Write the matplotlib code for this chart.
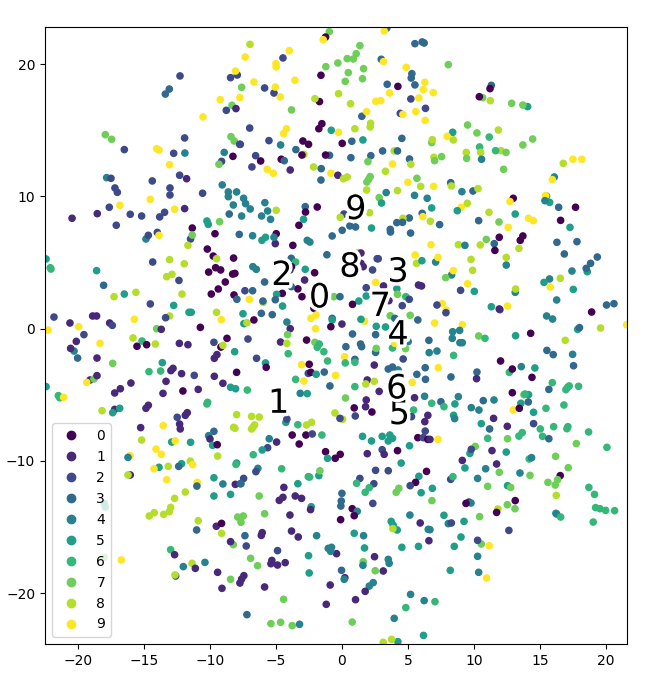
import matplotlib
matplotlib.use("Agg")
import matplotlib.pyplot as plt
import matplotlib.patheffects as pe
import numpy as np

# (x, y, digit class), grouped by part of the plane
upper_left = [
(-12.27,19.1,2),(-13.08,18.11,3),(-13.38,17.73,3),(-8.44,18.97,2),(-7.93,19.17,2),(-8.06,19.47,9),(-9.22,17.31,9),(-7.73,17.46,9),
(-8.33,16.88,7),(-8.03,16.63,1),(-8.76,16.5,2),(-10.53,16.0,9),(-17.93,14.66,7),(-17.45,14.31,7),(-11.92,14.41,2),(-8.41,14.51,7),
(-8.16,14.18,7),(-7.75,13.93,2),(-16.49,13.53,2),(-14.04,13.6,9),(-13.86,13.5,9),(-12.75,13.25,2),(-11.9,13.27,4),(-8.92,13.32,4),
(-8.26,13.02,0),(-9.12,12.64,2),(-9.32,12.42,7),(-13.06,12.39,9),(-12.3,11.59,2),(-11.77,11.33,1),(-17.83,11.41,4),(-17.5,11.36,2),
(-14.37,11.16,2),(-17.2,10.63,2),(-17.02,10.3,2),(-13.03,10.63,2),(-13.03,10.1,2),(-10.56,10.23,2),(-9.07,10.86,4),(-8.61,10.33,4),
(-8.61,9.97,4),(-7.98,10.33,4),(-14.52,9.77,9),(-16.82,9.32,9),(-17.63,9.17,2),(-12.68,9.02,9),(-11.92,9.07,1),(-8.23,9.34,4),
(-18.54,8.69,1),(-20.45,8.34,1),(-16.04,8.64,2),(-15.18,8.51,2),(-13.44,8.79,2),(-13.81,8.44,2),(-8.54,8.66,3),(-10.23,8.13,5),
(-10.13,7.88,5),(-9.27,8.08,7),(-17.1,7.81,2),(-11.34,7.6,0),
]
upper_middle = [
(-0.96,22.45,7),(-1.24,22.04,0),(-1.42,21.84,9),(3.4,22.72,3),(3.2,22.5,9),(-6.97,21.49,8),(5.53,21.54,3),(6.08,21.67,3),(6.23,21.59,3),
(1.36,21.39,7),(-3.99,21.01,9),(-7.33,20.53,9),(-4.47,20.46,2),(1.08,20.78,7),(0.4,20.41,7),(0.86,20.38,7),(-0.31,20.08,7),(2.98,20.36,3),
(3.15,20.18,9),(-5.0,20.03,9),(-4.98,19.78,9),(-1.22,19.8,7),(1.64,19.65,7),(4.87,19.75,9),(5.3,19.27,3),(5.25,18.94,3),(0.48,19.35,7),
(-1.59,19.15,0),(1.56,18.89,7),(0.25,18.69,7),(-6.67,18.64,9),(-3.56,18.77,9),(3.43,18.47,3),(4.24,18.31,0),(5.53,18.42,3),(6.28,18.62,9),
(6.16,18.06,9),(-7.6,18.24,7),(-5.86,18.19,2),(-5.15,17.81,2),(-5.05,18.26,9),(-4.67,17.51,9),(-0.26,17.76,8),(3.61,17.81,9),(-1.7,17.16,0),
(-2.05,17.38,8),(2.57,17.18,9),(2.95,17.23,9),(5.22,17.36,2),(5.83,17.43,9),(0.65,17.0,8),(-3.82,16.53,7),(1.51,16.05,3),(1.87,16.4,9),
(4.42,16.27,2),(4.62,16.2,9),(5.6,16.4,9),(6.33,16.65,2),(6.31,15.74,9),(2.17,15.52,8),(2.14,15.24,8),(0.98,15.11,8),(-1.52,15.49,0),
(-1.75,15.11,0),(-6.99,15.16,2),(-4.2,15.11,9),(-4.42,14.74,9),(-0.81,14.99,5),(-0.26,14.84,9),(4.54,14.38,3),(1.59,14.26,5),(0.75,14.16,3),
(0.02,14.0,0),(-5.53,14.21,2),(-2.96,14.18,0),(-2.53,13.93,0),(-4.65,13.88,4),(-7.7,13.93,2),(-3.49,13.53,3),(-2.88,13.17,8),(-3.03,13.12,0),
(3.08,13.43,3),(3.96,13.43,8),(4.21,13.43,3),(2.19,13.07,3),(-0.94,13.1,3),(-1.24,13.12,0),(-6.54,13.07,2),(0.68,12.92,3),(5.12,12.82,3),
(-6.16,12.67,0),(-4.6,12.8,0),(-4.37,12.69,3),(1.97,12.62,7),(-6.82,12.22,2),(5.22,12.42,8),(3.83,12.44,9),(-2.15,12.22,8),(-1.57,12.09,3),
(-5.66,12.04,9),(-5.2,11.74,9),(-3.92,11.99,1),(-0.84,11.74,9),(-0.31,11.59,1),(0.4,11.46,8),(0.12,11.33,8),(3.3,11.89,8),(2.14,11.49,7),
(2.02,11.28,7),(1.89,11.08,7),(-1.59,11.23,3),(5.68,11.36,7),(5.0,11.06,9),(5.96,10.75,8),(1.87,10.48,8),(4.21,10.43,8),(3.35,10.28,4),
(5.5,10.07,4),(2.82,9.9,7),(3.0,9.49,5),(6.46,9.85,4),(-7.45,9.85,4),(-7.3,9.44,4),(-6.95,9.04,4),(-5.84,9.52,4),(-2.78,9.22,3),(-1.87,9.19,0),
(-2.76,8.81,0),(-4.98,8.94,8),(-5.63,8.89,4),(-6.09,8.51,4),(-7.6,8.51,4),(-5.41,8.26,4),(-2.91,8.26,5),(-3.26,7.81,0),(0.15,8.66,2),(-0.13,8.41,8),
(2.09,8.76,8),(6.08,8.71,3),(6.13,8.46,9),(5.1,8.36,3),(4.62,8.34,8),(4.16,8.01,3),(4.59,8.03,3),(0.6,7.76,3),(1.03,7.68,3),(0.02,7.43,3),(2.24,7.6,5),(3.66,7.5,3),
]
upper_right = [
(8.06,19.95,7),(11.32,18.39,3),(11.22,18.14,0),(10.66,17.46,7),(10.41,17.53,0),(11.24,17.23,8),(12.86,17.03,7),(14.07,16.78,5),(13.71,16.9,7),
(6.92,17.84,9),(9.52,15.39,7),(10.23,14.79,7),(11.85,15.01,8),(11.16,14.48,6),(8.39,14.84,5),(7.98,14.53,9),(8.44,14.26,8),(6.8,14.06,7),(6.85,14.28,8),
(14.45,14.33,7),(13.71,13.88,7),(10.43,13.73,6),(10.51,13.32,8),(9.42,13.32,8),(9.45,12.87,7),(12.05,13.45,8),(11.64,13.45,6),(12.43,13.32,7),
(10.58,12.8,4),(7.55,13.0,7),(6.97,12.95,8),(7.02,12.69,7),(16.77,12.49,8),(17.5,12.8,9),(18.18,12.8,9),(12.25,12.04,7),(16.09,11.46,4),(15.94,11.26,9),
(8.24,11.03,3),(8.29,10.78,8),(6.95,10.75,9),(9.09,10.35,4),(9.93,10.4,3),(10.31,10.58,8),(15.5,10.02,5),(15.43,10.05,9),(15.74,9.54,5),(15.38,9.67,4),
(12.98,9.85,0),(12.73,9.6,9),(16.42,9.17,3),(17.7,9.17,0),(6.8,9.12,5),(9.04,9.17,9),(9.5,9.47,8),(8.74,8.91,5),(11.14,8.79,8),(13.13,8.66,5),
(14.14,8.34,9),(14.5,8.16,9),(16.57,8.18,0),(6.7,8.11,8),(10.36,8.16,3),(11.9,8.06,7),(7.4,7.86,3),(12.6,7.65,9),(17.28,7.65,5),
]
center_left = [
(-14.85,6.77,4),(-14.67,7.05,2),(-13.99,7.27,2),(-13.86,7.05,9),(-11.47,6.77,2),(-11.34,7.07,7),(-11.67,6.29,8),(-9.62,7.17,0),(-7.78,7.12,3),
(-22.42,5.26,5),(-22.1,4.6,6),(-22.05,4.5,6),(-10.2,6.01,0),(-9.75,5.48,0),(-9.5,5.28,8),(-8.21,5.33,0),(-14.34,5.03,2),(-13.06,5.21,8),(-11.95,4.9,8),
(-9.57,4.6,0),(-9.19,4.43,0),(-10.1,4.27,0),(-8.11,4.17,0),(-8.28,4.12,0),(-18.59,4.38,5),(-12.88,4.1,8),(-13.28,3.92,8),(-12.35,3.64,2),(-8.84,3.52,0),
(-9.37,2.99,0),(-18.06,3.27,3),(-15.61,2.74,8),(-16.49,2.61,5),(-17.27,2.41,8),(-12.12,2.61,8),(-9.9,2.61,0),(-8.18,2.54,0),(-7.96,2.21,3),(-14.52,1.86,2),
(-12.75,1.75,5),(-11.59,1.23,5),(-11.42,1.23,5),(-9.5,1.23,8),(-13.06,0.95,8),(-13.36,0.82,2),(-9.14,0.67,9),(-21.82,0.87,2),(-18.89,0.95,1),(-18.59,0.95,1),
(-15.73,0.7,9),(-22.27,-0.11,9),(-20.61,0.42,1),(-19.95,0.14,9),(-17.6,0.42,1),(-17.4,0.24,2),(-14.04,-0.01,7),(-13.69,-0.06,1),(-10.73,0.09,0),(-19.55,-0.46,2),
(-20.13,-0.97,1),(-18.33,-1.12,9),(-15.83,-0.71,8),(-15.15,-0.94,6),(-15.53,-1.34,0),(-14.8,-1.22,0),(-14.14,-1.17,8),(-12.32,-1.12,1),(-11.67,-1.22,1),
(-9.7,-1.04,2),(-8.71,-0.74,0),(-9.17,-1.4,0),(-9.02,-1.27,8),(-20.3,-1.7,4),(-20.56,-1.5,1),(-20.03,-2.23,3),(-18.56,-2.23,1),(-8.13,-1.75,5),(-9.67,-2.25,1),
(-9.47,-1.97,1),(-17.37,-2.63,7),(-13.61,-2.58,5),(-14.62,-3.26,6),(-13.74,-3.21,6),(-12.8,-3.01,1),(-12.96,-3.18,1),(-12.15,-3.41,1),(-11.19,-3.54,2),
(-7.98,-3.31,0),(-9.67,-3.61,1),(-22.42,-4.39,5),(-19.09,-3.89,1),(-18.79,-3.81,7),(-18.56,-3.56,1),(-19.34,-4.07,9),(-13.33,-3.99,1),(-15.99,-4.12,1),
(-9.02,-4.14,1),(-8.44,-4.44,5),(-8.06,-4.55,5),(-12.05,-4.72,0),(-10.89,-4.6,1),(-16.79,-4.55,1),(-17.22,-4.87,1),(-13.56,-4.9,1),(-21.49,-5.07,6),
(-21.39,-5.23,6),(-21.09,-5.2,9),(-10.18,-5.58,6),(-10.23,-5.7,6),(-14.67,-5.8,1),(-14.85,-6.03,1),(-17.22,-6.11,1),(-16.84,-6.03,5),(-17.37,-6.36,5),
(-18.18,-6.21,8),(-11.72,-6.36,1),(-11.87,-6.56,1),(-7.98,-6.51,8),(-12.48,-6.71,2),(-12.3,-7.22,1),(-12.25,-7.59,1),(-13.54,-7.34,9),(-15.25,-7.49,1),
(-8.21,-7.47,8),(-8.11,-7.54,8),(-9.7,-7.77,3),
]
center_middle = [
(-6.77,7.02,4),(-5.79,6.9,5),(-6.06,6.67,5),(-5.05,6.42,1),(-4.98,7.17,0),(-5.15,6.9,4),(-3.72,6.29,0),(-2.63,6.67,4),(-2.43,6.54,4),(-0.74,7.0,3),
(3.68,7.3,3),(5.2,7.22,3),(-1.14,5.58,3),(1.23,5.74,8),(1.44,5.71,1),(2.75,5.28,2),(2.67,5.28,2),(5.55,5.56,9),(5.65,4.93,8),(6.06,5.13,5),(-3.84,5.31,3),
(-3.51,5.03,6),(-3.82,4.68,0),(-3.94,4.43,1),(-6.75,4.68,4),(-6.49,4.48,4),(-2.78,4.48,5),(-2.07,4.22,0),(2.32,4.43,2),(1.61,4.68,1),(1.44,4.93,1),(-5.86,3.52,3),
(-2.83,3.67,1),(-3.34,3.0,0),(-4.52,2.66,0),(-3.84,3.17,3),(2.55,3.49,9),(3.15,3.22,1),(1.84,3.09,2),(4.16,3.01,5),(4.21,2.59,7),(5.8,3.29,1),(6.03,3.22,1),
(-7.35,2.86,2),(-6.77,2.86,3),(-4.95,2.59,5),(-3.03,2.41,0),(-0.61,2.41,7),(-0.15,2.41,3),(1.84,2.46,5),(1.28,2.08,5),(0.8,1.83,0),(4.84,2.41,6),(5.1,2.21,2),
(3.56,2.11,1),(4.57,1.73,2),(-7.02,2.21,9),(-5.96,1.98,8),(-5.99,2.08,3),(-5.05,2.18,3),(-4.5,1.7,5),(-2.12,1.53,0),(-7.5,1.12,5),(-7.43,0.37,5),(-7.2,0.44,8),
(-6.11,1.15,3),(-5.28,1.05,3),(-6.67,0.65,0),(-2.35,0.77,9),(-1.97,1.02,9),(-4.17,0.49,4),(-3.92,-0.01,1),(-0.74,0.77,3),(-0.74,0.65,5),(0.0,0.34,1),(-0.84,0.14,0),
(-2.0,-0.01,9),(1.71,0.55,9),(1.44,0.7,5),(3.66,0.97,7),(5.17,1.0,7),(5.75,0.65,3),(4.01,0.77,3),(2.6,0.17,5),(3.3,0.12,5),(0.8,-0.41,3),(2.55,-0.46,3),(-4.12,-0.46,7),
(-7.12,-0.79,2),(-4.65,-1.02,1),(-4.17,-1.12,8),(-2.68,-0.87,0),(-2.05,-1.04,7),(-1.72,-1.17,6),(-1.87,-1.42,6),(-1.37,-1.75,6),(-4.07,-1.9,6),(0.3,-1.37,3),
(1.41,-1.17,3),(1.49,-1.37,3),(2.55,-1.8,3),(2.6,-1.5,7),(3.83,-1.47,6),(5.02,-0.99,4),(4.82,-1.52,7),(4.01,-1.12,9),(6.59,-0.89,3),(6.61,-1.82,4),(-6.47,-2.25,2),
(-5.79,-2.6,5),(-5.74,-2.93,0),(-3.06,-2.73,9),(-2.48,-2.7,0),(-2.55,-3.39,2),(-2.35,-3.31,0),(-1.95,-3.46,5),(-1.09,-2.45,6),(-1.34,-3.29,3),(0.2,-2.13,9),(0.25,-2.6,6),
(0.98,-2.33,3),(0.98,-2.55,6),(2.45,-2.76,1),(4.64,-2.3,2),(-0.48,-3.54,9),(-3.51,-3.84,6),(-2.88,-3.97,9),(3.51,-3.06,3),(4.26,-3.13,4),(3.83,-2.91,3),(5.68,-3.46,3),
(6.31,-2.96,3),(6.33,-3.84,3),(1.92,-3.89,1),(2.45,-3.99,8),(1.81,-4.19,8),(0.98,-4.39,6),(-0.91,-4.34,3),(5.32,-4.07,9),(2.82,-4.75,1),(-7.17,-4.65,6),(-3.16,-4.9,4),
(-2.63,-4.92,5),(0.27,-5.25,7),(1.84,-5.4,1),(1.79,-5.91,1),(0.93,-6.0,0),(2.27,-6.31,0),(1.01,-6.61,2),(5.5,-5.23,1),(6.26,-5.12,4),(5.43,-6.16,6),(5.27,-6.66,2),
(6.51,-6.56,1),(6.28,-7.04,1),(6.31,-7.75,2),(-0.53,-6.38,8),(0.05,-6.86,8),(-0.15,-6.79,2),(-6.85,-6.64,8),(-6.27,-6.69,8),(-6.62,-7.29,8),(-6.75,-7.47,8),(-6.85,-7.59,8),
(-4.25,-7.09,5),(-4.17,-6.84,2),(-3.34,-7.27,6),(-2.68,-7.29,8),(-2.3,-7.09,8),
]
center_right = [
(10.94,6.74,7),(11.92,6.9,0),(13.71,7.0,0),(13.51,6.67,0),(16.29,6.52,3),(17.81,6.57,3),(11.54,6.42,3),(6.75,6.34,9),(8.82,6.34,8),(9.32,6.29,4),(10.48,6.32,8),
(11.59,5.91,0),(13.41,6.06,8),(16.85,5.64,3),(19.35,5.41,3),(18.84,4.93,3),(7.1,5.03,4),(7.28,5.38,9),(9.78,5.23,8),(12.45,5.38,8),(12.45,4.8,4),(18.59,4.3,5),(18.51,4.55,3),
(17.43,4.35,4),(9.9,4.4,8),(8.31,4.05,4),(8.44,4.38,9),(7.86,3.85,7),(15.73,3.75,4),(15.31,3.49,5),(16.54,3.8,8),(9.52,3.39,9),(15.79,3.14,9),(17.53,2.96,5),(10.03,2.81,5),
(8.99,2.89,2),(13.13,2.74,4),(13.16,2.99,8),(16.27,2.16,4),(20.05,1.78,3),(20.61,1.88,3),(7.6,1.88,9),(7.2,1.78,2),(7.91,1.4,9),(7.88,1.2,2),(11.32,1.65,5),(11.97,1.43,2),(11.92,1.48,1),
(12.55,1.7,9),(18.92,1.25,0),(15.51,0.95,4),(15.96,0.72,4),(7.02,0.42,9),(9.12,0.29,9),(21.57,0.29,9),(8.92,-0.14,4),(8.39,-0.24,4),(8.36,-0.74,4),(17.86,-0.06,5),(18.0,0.07,3),
(19.6,0.04,8),(10.36,-0.56,7),(10.84,-0.74,6),(13.16,-0.54,5),(14.3,-0.36,0),(16.92,-0.89,8),(8.94,-1.07,4),(9.12,-1.07,4),(15.53,-1.65,3),(16.01,-1.97,3),(17.48,-1.95,4),
(7.2,-1.7,4),(8.46,-2.03,6),(12.02,-2.45,0),(17.55,-2.81,3),(7.3,-2.96,9),(13.59,-2.88,4),(14.62,-2.98,5),(12.68,-3.31,6),(12.91,-3.06,0),(10.23,-3.29,3),(10.2,-3.79,1),
(8.26,-3.66,3),(14.4,-3.69,0),(15.94,-4.09,6),(15.68,-4.6,3),(17.22,-4.34,6),(17.1,-4.44,6),(16.97,-4.62,6),(17.93,-4.37,6),(12.91,-4.85,0),(14.14,-5.0,5),(13.79,-5.0,7),(13.87,-4.95,6),
(8.82,-5.15,4),(7.5,-5.53,3),(6.8,-5.65,6),(7.73,-5.91,6),(8.56,-5.7,5),(10.71,-5.45,3),(11.52,-5.4,4),(13.56,-5.65,5),(14.12,-5.55,3),(9.8,-5.98,4),(10.38,-6.16,4),
(16.82,-5.78,6),(15.46,-6.03,6),(12.98,-6.16,9),(13.44,-6.03,0),(14.52,-6.33,5),(8.46,-6.56,5),(8.54,-6.81,4),(11.49,-6.79,1),(10.56,-7.19,5),(12.53,-7.39,1),(14.52,-7.19,2),
(11.19,-7.59,3),(15.03,-7.59,6),(16.04,-7.42,6),(17.05,-7.57,6),(17.12,-7.42,6),(18.69,-7.82,6),(13.66,-7.87,6),
]
lower_left = [
(-15.18,-8.43,8),(-12.9,-8.58,5),(-12.63,-8.5,9),(-11.47,-8.6,5),(-10.1,-8.1,4),(-10.0,-8.35,1),(-9.8,-8.83,5),(-9.45,-8.78,0),(-14.09,-9.11,9),(-13.69,-9.51,9),
(-16.06,-9.61,9),(-16.21,-9.74,4),(-9.42,-9.64,8),(-7.98,-10.17,5),(-8.03,-10.27,6),(-13.86,-10.49,5),(-14.24,-10.6,9),(-13.16,-10.42,8),(-12.15,-10.22,5),(-12.37,-10.42,3),
(-11.49,-10.02,8),(-11.31,-10.29,9),(-13.28,-11.43,9),(-16.04,-11.07,1),(-16.21,-11.07,8),(-9.7,-11.28,5),(-9.02,-11.75,4),(-8.08,-11.78,1),(-7.7,-11.73,3),(-10.96,-11.63,9),
(-10.99,-11.91,3),(-8.44,-12.54,5),(-9.7,-12.66,5),(-11.87,-12.36,8),(-12.68,-12.84,8),(-18.01,-13.22,5),(-17.93,-13.49,5),(-12.98,-13.52,8),(-13.08,-13.85,8),(-13.51,-14.05,8),
(-14.22,-13.92,8),(-14.6,-14.17,8),(-10.89,-14.53,8),(-7.9,-14.25,7),(-9.52,-14.95,1),(-9.12,-14.73,0),(-11.01,-15.23,3),(-9.12,-15.48,8),(-8.23,-16.34,7),(-8.44,-16.11,1),
(-18.01,-17.3,7),(-16.72,-17.5,9),(-12.98,-16.72,6),(-12.68,-17.1,1),(-10.38,-17.68,4),(-11.36,-17.75,8),(-11.11,-18.13,1),(-12.02,-18.0,4),(-9.42,-18.43,1),(-12.6,-18.71,2),
(-12.65,-18.63,8),(-8.44,-18.96,7),(-9.09,-19.64,1),
]
lower_middle = [
(-3.77,-8.05,0),(-2.73,-8.05,0),(-2.25,-7.97,2),(-1.52,-8.05,6),(1.56,-8.15,5),(2.24,-8.5,5),(3.05,-8.15,5),(3.51,-8.5,5),(3.83,-8.3,5),(3.63,-8.05,5),(5.75,-8.25,0),(6.16,-8.25,2),
(6.51,-8.38,0),(-5.51,-8.33,4),(-4.95,-8.58,1),(-3.24,-8.73,0),(5.12,-8.86,5),(-5.63,-9.01,2),(-6.04,-9.18,5),(-6.72,-9.54,6),(-1.24,-9.31,0),(-0.13,-9.51,0),(-1.09,-9.81,5),(-0.51,-9.81,0),
(1.92,-9.46,1),(3.05,-9.16,2),(3.2,-9.51,1),(4.21,-9.23,0),(4.49,-10.17,5),(2.55,-10.72,2),(3.51,-10.75,2),(6.41,-10.8,0),(5.83,-11.17,5),(5.58,-11.63,0),(5.17,-11.88,2),(-6.37,-10.57,4),
(-6.52,-10.82,2),(-4.57,-10.6,6),(-1.75,-11.12,5),(-1.67,-10.75,7),(-2.55,-11.2,6),(-2.45,-11.23,6),(-7.45,-11.33,2),(-7.65,-11.73,3),(-3.34,-11.73,5),(-4.4,-12.01,1),(1.36,-11.33,2),
(1.11,-11.7,6),(2.42,-11.73,2),(2.07,-12.03,6),(1.76,-12.38,6),(4.31,-12.08,7),(4.11,-12.38,7),(6.0,-12.41,5),(0.0,-12.46,3),(-6.27,-12.66,7),(-3.54,-12.66,1),(-3.06,-12.84,1),(-4.47,-12.76,1),
(-4.75,-12.99,1),(-0.05,-13.04,3),(-0.08,-13.42,3),(2.34,-13.22,2),(-2.33,-13.47,5),(-2.38,-13.69,1),(0.78,-13.62,0),(1.16,-13.82,4),(0.93,-14.15,0),(-0.1,-14.45,0),(-3.94,-14.1,1),(-5.86,-14.0,7),
(-7.48,-14.17,7),(-7.65,-14.65,7),(5.15,-14.1,4),(5.93,-14.7,1),(4.19,-15.23,5),(3.73,-14.58,5),(3.88,-14.85,5),(3.86,-15.13,8),(6.54,-15.18,4),(-3.82,-15.31,1),(-3.31,-15.76,1),(-6.04,-15.43,1),
(-6.11,-15.64,1),(-7.35,-15.66,3),(-1.92,-15.66,4),(0.93,-15.48,5),(1.64,-15.66,4),(6.59,-16.04,1),(-7.25,-16.44,2),(1.71,-16.59,5),(4.54,-16.54,5),(5.8,-16.47,5),(-4.88,-16.79,2),(-0.41,-17.02,1),
(-1.04,-16.62,4),(-0.79,-16.54,4),(-0.86,-16.84,4),(-2.53,-17.17,5),(-6.92,-17.37,7),(-6.39,-17.93,7),(-5.31,-17.53,1),(-5.38,-17.78,1),(-4.88,-17.88,1),(-4.3,-17.7,1),(2.47,-17.25,1),(1.61,-17.63,7),
(1.59,-17.9,4),(3.51,-17.45,4),(3.58,-17.75,4),(2.52,-18.31,7),(3.13,-18.33,1),(-2.48,-18.48,5),(-0.03,-18.28,3),(0.22,-18.84,1),(0.17,-18.96,4),(-7.43,-18.68,1),(-7.6,-18.94,1),(-7.73,-19.24,1),
(-0.89,-19.39,1),(-5.86,-19.54,1),(2.37,-19.21,4),(2.07,-19.47,4),(1.76,-19.87,1),(5.2,-20.1,4),(1.03,-20.5,1),(-4.42,-20.47,7),(6.23,-20.57,4),(-1.19,-20.85,1),(4.84,-21.1,6),(-7.2,-21.63,3),
(3.96,-21.91,4),(-5.38,-22.31,7),(-4.65,-22.21,7),(-3.77,-22.46,7),(-3.21,-22.36,4),(0.78,-22.19,7),(6.18,-23.2,5),(4.24,-23.67,5),(3.13,-23.72,8),(3.76,-23.5,8),
]
lower_right = [
(6.67,-8.38,1),(7.28,-8.38,9),(11.04,-8.3,6),(12.55,-8.33,7),(13.41,-8.13,6),(15.2,-8.15,6),(15.68,-8.33,3),(17.76,-8.7,7),(20.08,-8.98,6),(10.1,-8.91,7),(9.7,-9.44,5),(9.8,-9.13,2),(11.37,-9.23,1),
(12.45,-9.34,5),(16.19,-9.66,7),(14.19,-9.86,6),(14.37,-9.76,4),(9.12,-9.97,1),(11.72,-10.24,1),(9.32,-10.54,5),(10.89,-10.6,4),(17.15,-10.52,7),(11.92,-10.87,7),(13.49,-10.92,4),(14.25,-11.1,7),
(16.54,-11.12,0),(16.34,-11.43,7),(16.16,-11.83,7),(15.61,-11.63,7),(8.24,-11.4,2),(8.41,-11.2,6),(10.28,-11.33,4),(11.04,-11.93,7),(12.55,-11.88,5),(12.78,-12.01,7),(6.85,-12.08,5),(18.71,-12.01,6),
(19.14,-12.54,6),(16.24,-12.61,8),(6.82,-13.01,7),(13.13,-13.01,0),(9.62,-13.12,1),(9.78,-13.19,4),(9.4,-13.22,0),(12.53,-13.32,7),(11.82,-13.64,8),(11.72,-13.9,0),(13.11,-13.62,7),(19.22,-13.54,6),
(19.55,-13.62,6),(19.98,-13.75,6),(20.66,-13.77,6),(16.21,-13.97,5),(16.27,-14.02,4),(16.57,-14.25,6),(7.73,-14.12,5),(10.43,-14.22,7),(19.04,-14.63,6),(8.06,-14.75,4),(8.29,-14.7,2),(9.25,-14.58,5),
(12.65,-15.26,2),(6.67,-15.21,4),(9.02,-15.76,5),(10.56,-16.29,7),(10.28,-16.01,2),(11.16,-16.42,9),(8.51,-16.47,5),(10.28,-17.22,4),(8.21,-18.28,5),(10.36,-18.43,4),(10.96,-18.86,9),(7.05,-20.65,6),
]

digit_names = ["0", "1", "2", "3", "4", "5", "6", "7", "8", "9"]
digit_text_x = [-2.5, -5.6, -5.35, 3.45, 3.45, 3.55, 3.35, 2.1, -0.2, 0.25]
digit_text_y = [1.6, -6.37, 3.29, 3.54, -1.2, -7.22, -5.28, 0.95, 3.92, 8.28]

regions = [upper_left, upper_middle, upper_right, center_left, center_middle,
           center_right, lower_left, lower_middle, lower_right]
table = np.array([row for region in regions for row in region])

fig = plt.figure(figsize=(6.47, 6.74), dpi=100)
ax = fig.add_axes([45 / 647, 1 - 644 / 674, 582 / 647, 617 / 674])
sc = ax.scatter(table[:, 0], table[:, 1], c=table[:, 2], cmap="viridis", vmin=0, vmax=9, s=20)
ax.set_xlim(-22.5, 21.6)
ax.set_ylim(-23.85, 22.8)
ax.set_xticks(range(-20, 21, 5))
ax.set_yticks(range(-20, 21, 10))
ax.legend(sc.legend_elements(num=10)[0], digit_names, loc="lower left")

for name, tx, ty in zip(digit_names, digit_text_x, digit_text_y):
    label = ax.text(tx, ty, name, fontsize=24)
    label.set_path_effects([pe.Stroke(linewidth=5, foreground="w"), pe.Normal()])

fig.savefig("out.png", dpi=100)
